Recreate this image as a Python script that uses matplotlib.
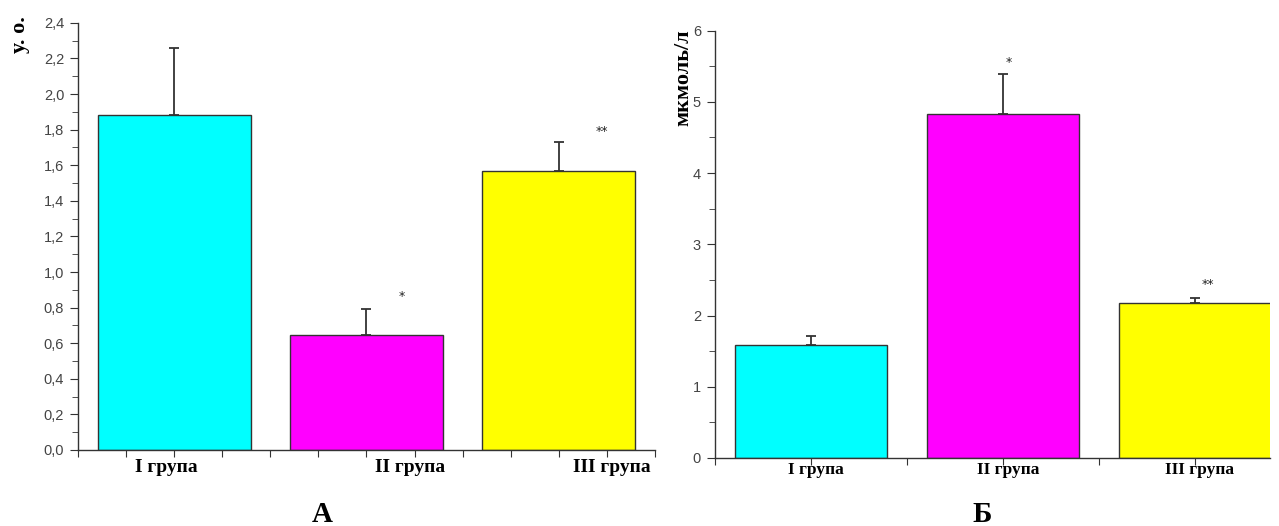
import matplotlib
matplotlib.use("Agg")
import matplotlib.pyplot as plt
import matplotlib.transforms as mtransforms
from matplotlib.ticker import MultipleLocator, FuncFormatter

# дані
groups = ["I група", "II група", "III група"]
colors = ["#00ffff", "#ff00ff", "#ffff00"]

# панель А (у. о.)
a_mean = [1.88, 0.645, 1.57]
a_err = [0.38, 0.15, 0.16]
a_marks = ["", "*", "**"]
a_mark_y = [0, 0.86, 1.79]

# панель Б (мкмоль/л)
b_mean = [1.58, 4.83, 2.18]
b_err = [0.13, 0.56, 0.07]
b_marks = ["", "*", "**"]
b_mark_y = [0, 5.56, 2.43]

fig = plt.figure(figsize=(12.79, 5.26), dpi=100)
tick_col = "#444444"
serif = ["Liberation Serif", "DejaVu Serif"]
sans = ["Liberation Sans", "DejaVu Sans"]


def style(ax):
    for s in ["top", "right"]:
        ax.spines[s].set_visible(False)
    for s in ["left", "bottom"]:
        ax.spines[s].set_color("#333333")
        ax.spines[s].set_linewidth(1.0)
    ax.tick_params(axis="y", which="major", direction="out", length=6, color="#333333",
                   labelcolor=tick_col, labelsize=10.5, pad=4)
    ax.tick_params(axis="y", which="minor", direction="out", length=4, color="#333333")
    ax.tick_params(axis="x", which="both", direction="out", length=5, color="#333333",
                   labelbottom=False)
    for lab in ax.get_yticklabels():
        lab.set_family(sans)


# ---- А ----
ax1 = fig.add_axes([0.061, 0.1445, 0.451, 0.812])
xa = [2, 6, 10]
ax1.bar(xa, a_mean, width=3.18, color=colors, edgecolor="#333333", linewidth=1.0, zorder=2)
ax1.errorbar(xa, a_mean, yerr=[[0, 0, 0], a_err], fmt="none", ecolor="#333333",
             elinewidth=1.3, capsize=3.3, capthick=1.3, zorder=3)
ax1.set_xlim(0, 12)
ax1.set_ylim(0, 2.4)
ax1.xaxis.set_major_locator(MultipleLocator(1))
ax1.yaxis.set_major_locator(MultipleLocator(0.2))
ax1.yaxis.set_minor_locator(MultipleLocator(0.1))
ax1.yaxis.set_major_formatter(FuncFormatter(lambda v, p: f"{v:.1f}".replace(".", ",")))
style(ax1)
trans1 = mtransforms.blended_transform_factory(ax1.transData, ax1.transAxes)
a_lab_x = [1.83, 6.9, 11.1]
for lx, g in zip(a_lab_x, groups):
    ax1.text(lx, -0.042, g, transform=trans1, ha="center", va="center",
             fontsize=14, fontweight="bold", family=serif)
for x, m, y in zip([6.73, 10.9], a_marks[1:], a_mark_y[1:]):
    ax1.text(x, y, m, ha="center", va="center", fontsize=9, color="#222222")
fig.text(20 / 1279, 1 - 35 / 526, "у. о.", rotation=90, ha="center", va="center",
         fontsize=16, fontweight="bold", family=serif)
fig.text(322 / 1279, 1 - 514 / 526, "А", ha="center", va="center",
         fontsize=21, fontweight="bold", family=serif)

# ---- Б ----
ax2 = fig.add_axes([0.559, 0.1293, 0.434, 0.8124])
xb = [1, 3, 5]
ax2.bar(xb, b_mean, width=1.59, color=colors, edgecolor="#333333", linewidth=1.0, zorder=2)
ax2.errorbar(xb, b_mean, yerr=[[0, 0, 0], b_err], fmt="none", ecolor="#333333",
             elinewidth=1.3, capsize=3.3, capthick=1.3, zorder=3)
ax2.set_xlim(0, 5.78)
ax2.set_ylim(0, 6)
ax2.xaxis.set_major_locator(MultipleLocator(1))
ax2.yaxis.set_major_locator(MultipleLocator(1))
ax2.yaxis.set_minor_locator(MultipleLocator(0.5))
style(ax2)
trans2 = mtransforms.blended_transform_factory(ax2.transData, ax2.transAxes)
for x, g in zip(xb, groups):
    ax2.text(x + 0.05, -0.028, g, transform=trans2, ha="center", va="center",
             fontsize=12.5, fontweight="bold", family=serif)
for x, m, y in zip([3.06, 5.13], b_marks[1:], b_mark_y[1:]):
    ax2.text(x, y, m, ha="center", va="center", fontsize=9, color="#222222")
fig.text(683 / 1279, 1 - 78 / 526, "мкмоль/л", rotation=90, ha="center", va="center",
         fontsize=16, fontweight="bold", family=serif)
fig.text(982 / 1279, 1 - 514 / 526, "Б", ha="center", va="center",
         fontsize=21, fontweight="bold", family=serif)

fig.savefig("out.png", dpi=100)
